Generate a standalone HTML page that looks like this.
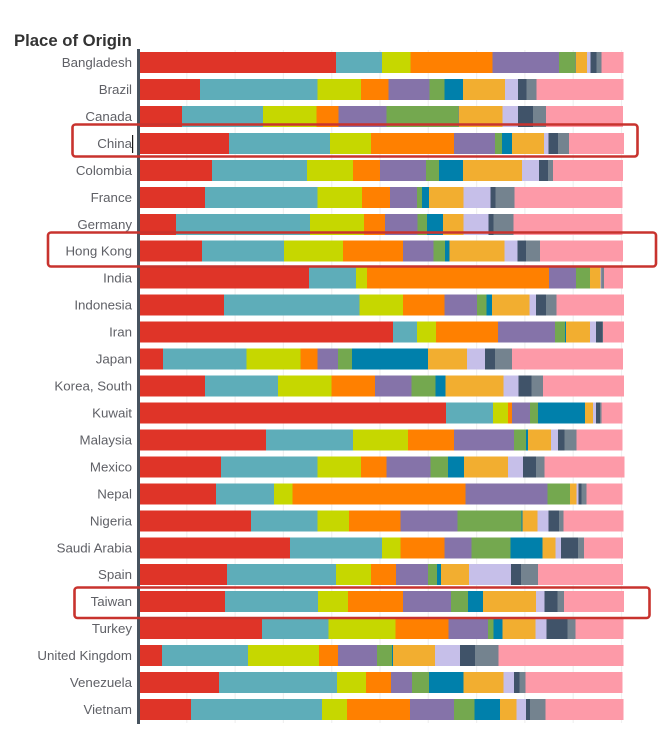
<!DOCTYPE html>
<html lang="en">
<head>
<meta charset="utf-8">
<title>Place of Origin</title>
<style>
html,body{margin:0;padding:0;background:#fff;width:659px;height:743px;overflow:hidden}
svg{display:block;font-family:"Liberation Sans",Arial,sans-serif}
</style>
</head>
<body>
<svg id="chart" xmlns="http://www.w3.org/2000/svg" width="659" height="743" viewBox="0 0 659 743">
  <rect x="0" y="0" width="659" height="743" fill="#ffffff"/>
  <text x="14" y="46" font-size="16.7" font-weight="700" fill="#333333">Place of Origin</text>
  <g id="grid"></g>
  <g id="bars" shape-rendering="crispEdges"></g>
  <g id="labels"></g>
  <rect x="137" y="49" width="3" height="675" fill="#47535f"/>
  <rect x="132" y="135" width="1.2" height="18" fill="#1a1a1a"/>
  <g fill="none" stroke="#c8332e" stroke-width="2.6">
    <rect x="72.5" y="124.5" width="565" height="32" rx="3"/>
    <rect x="48" y="232.5" width="608" height="34" rx="3"/>
    <rect x="74.5" y="587.5" width="575" height="30.5" rx="3"/>
  </g>
</svg>
<script>
const categories = ["Bangladesh","Brazil","Canada","China","Colombia","France","Germany","Hong Kong","India","Indonesia","Iran","Japan","Korea, South","Kuwait","Malaysia","Mexico","Nepal","Nigeria","Saudi Arabia","Spain","Taiwan","Turkey","United Kingdom","Venezuela","Vietnam"];
const gridTicks = [10,20,30,40,50,60,70,80,90,100];
const seriesRed = [40.6,12.4,8.7,18.4,14.9,13.5,7.5,12.8,35.0,17.4,52.4,4.8,13.5,63.4,26.1,16.8,15.7,23.0,31.1,18.0,17.6,25.3,4.6,16.4,10.6];
const seriesTeal = [9.5,24.4,16.8,20.9,19.7,23.2,27.7,17.0,9.7,28.0,5.0,17.2,15.1,9.7,18.0,19.9,12.0,13.7,19.0,22.6,19.3,13.7,17.8,24.4,27.1];
const seriesLime = [5.9,9.0,11.0,8.5,9.5,9.3,11.2,12.2,2.3,9.1,3.9,11.2,11.0,3.1,11.4,9.1,3.9,6.6,3.8,7.2,6.2,13.9,14.7,6.0,5.2];
const seriesOrange = [17.0,5.6,4.6,17.2,5.6,5.8,4.3,12.4,37.7,8.5,12.8,3.5,9.1,0.8,9.5,5.2,35.8,10.6,9.1,5.2,11.4,11.0,3.9,5.2,13.0];
const seriesPurple = [13.7,8.5,9.9,8.5,9.5,5.6,6.8,6.4,5.6,6.8,11.8,4.3,7.5,3.7,12.4,9.1,17.0,11.8,5.6,6.6,9.9,8.1,8.1,4.3,9.1];
const seriesGreen = [3.4,3.1,14.8,1.4,2.7,1.0,1.9,2.3,2.9,1.9,2.1,2.9,5.0,1.7,2.5,3.7,4.6,13.3,8.1,1.9,3.5,1.2,3.1,3.5,4.3];
const seriesBlue = [0.1,3.9,0.1,2.1,5.0,1.4,3.3,1.0,0,1.2,0.2,15.7,2.1,9.7,0.4,3.3,0,0.2,6.6,0.8,3.1,1.9,0.2,7.2,5.2];
const seriesGold = [2.3,8.7,9.1,6.6,12.2,7.2,4.3,11.4,2.1,7.7,5.0,8.1,12.0,1.7,4.8,9.1,1.4,3.1,2.7,5.8,11.0,6.8,8.7,8.3,3.5];
const seriesLavender = [0.8,2.7,3.3,1.0,3.5,5.6,5.2,2.7,0.2,1.4,1.2,3.7,3.1,0.6,1.4,3.1,0.4,2.3,1.2,8.7,1.7,2.3,5.2,2.1,1.9];
const seriesNavy = [1.2,1.7,3.1,1.9,1.9,1.0,1.0,1.7,0.2,2.1,1.4,2.1,2.7,0.8,1.4,2.7,0.6,2.1,3.5,2.1,2.7,4.3,3.1,1.2,0.8];
const seriesGray = [1.0,2.1,2.7,2.3,1.0,3.9,4.1,2.9,0.4,2.1,0.1,3.5,2.3,0.4,2.5,1.7,1.0,1.0,1.2,3.5,1.4,1.7,4.8,1.2,3.3];
const seriesPink = [4.6,18.0,15.9,11.4,14.5,22.4,22.6,17.2,3.9,14.0,4.3,23.0,16.8,4.3,9.5,16.6,7.5,12.4,8.1,17.6,12.4,9.9,25.9,20.1,16.1];

const stack = [
  {key:"red",color:"#df3428",values:seriesRed},
  {key:"teal",color:"#5eadb9",values:seriesTeal},
  {key:"lime",color:"#c6d700",values:seriesLime},
  {key:"orange",color:"#ff8000",values:seriesOrange},
  {key:"purple",color:"#8573a9",values:seriesPurple},
  {key:"green",color:"#74a84f",values:seriesGreen},
  {key:"blue",color:"#0080ab",values:seriesBlue},
  {key:"gold",color:"#f2ae30",values:seriesGold},
  {key:"lavender",color:"#c6bfe9",values:seriesLavender},
  {key:"navy",color:"#405369",values:seriesNavy},
  {key:"gray",color:"#74838f",values:seriesGray},
  {key:"pink",color:"#fd9aa8",values:seriesPink}
];

const NS = "http://www.w3.org/2000/svg";
const xScale = v => 140 + v * 4.83;
const yScale = i => 52 + i * 26.96;
const barHeight = 21;

const gridGroup = document.getElementById("grid");
gridTicks.forEach(t => {
  const el = document.createElementNS(NS, "line");
  el.setAttribute("x1", xScale(t) - 1.5);
  el.setAttribute("x2", xScale(t) - 1.5);
  el.setAttribute("y1", 50);
  el.setAttribute("y2", 723);
  el.setAttribute("stroke", "#f0f0f0");
  el.setAttribute("stroke-width", "1.2");
  
  
  gridGroup.appendChild(el);
});

const barsGroup = document.getElementById("bars");
const labelsGroup = document.getElementById("labels");
categories.forEach((name, i) => {
  let cum = 0;
  stack.forEach(s => {
    const v = s.values[i];
    if (v > 0) {
      const el = document.createElementNS(NS, "rect");
      el.setAttribute("x", xScale(cum));
      el.setAttribute("y", yScale(i));
      el.setAttribute("width", xScale(cum + v) - xScale(cum));
      el.setAttribute("height", barHeight);
      el.setAttribute("fill", s.color);
      
      
      barsGroup.appendChild(el);
    }
    cum += v;
  });
  const tx = document.createElementNS(NS, "text");
  tx.setAttribute("x", 132);
  tx.setAttribute("y", yScale(i) + 15);
  tx.setAttribute("text-anchor", "end");
  tx.setAttribute("font-size", "13.3");
  tx.setAttribute("fill", "#5f6066");
  
  
  tx.textContent = name;
  labelsGroup.appendChild(tx);
});
</script>
</body>
</html>
